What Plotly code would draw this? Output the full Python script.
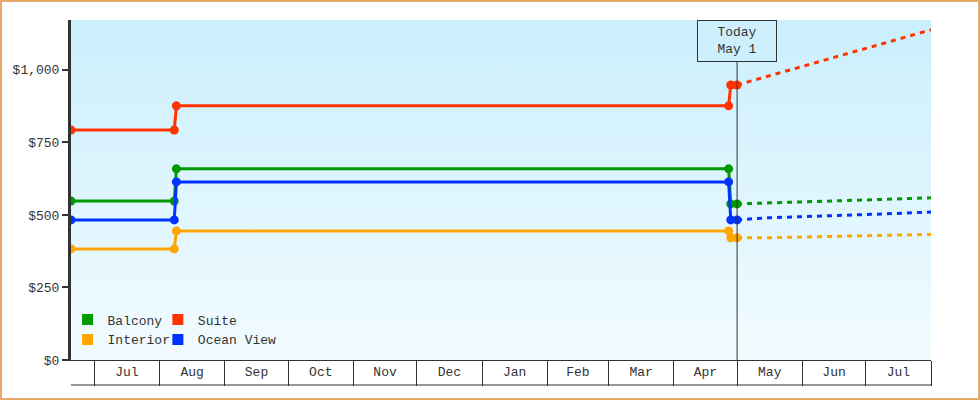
import plotly.graph_objects as go

# price history (step changes) and forecast, per cabin type
hist_dates = ["2023-06-20", "2023-08-08", "2023-08-09", "2024-04-27", "2024-04-28", "2024-05-01"]
balcony_hist = [548, 548, 659, 659, 538, 538]
suite_hist = [793, 793, 876, 876, 948, 948]
interior_hist = [383, 383, 445, 445, 421, 421]
ocean_hist = [483, 483, 614, 614, 483, 483]

fc_dates = ["2024-05-01", "2024-05-15", "2024-06-01", "2024-06-15", "2024-07-01", "2024-07-15", "2024-08-01"]
balcony_fc = [538, 540, 545, 548, 552, 555, 559]
suite_fc = [948, 977, 1011, 1040, 1074, 1103, 1138]
interior_fc = [421, 421, 424, 426, 428, 431, 433]
ocean_fc = [483, 490, 494, 497, 500, 505, 510]

today = "2024-05-01"
y_max = 1172
y_ticks = [0, 250, 500, 750, 1000]

series = [
    ("Balcony", balcony_hist, balcony_fc, "#009900", "legend"),
    ("Suite", suite_hist, suite_fc, "#ff3300", "legend2"),
    ("Interior", interior_hist, interior_fc, "#ffa500", "legend"),
    ("Ocean View", ocean_hist, ocean_fc, "#0033ff", "legend2"),
]

W, H = 980, 400
ml, mr, mt, mb = 71, 49, 20, 40
pw, ph = W - ml - mr, H - mt - mb
font = "Liberation Mono"

fig = go.Figure()

# background gradient
fig.add_trace(go.Scatter(
    x=[hist_dates[0], fc_dates[-1]], y=[y_max, y_max],
    mode="lines", line=dict(width=0), fill="tozeroy",
    fillgradient=dict(type="vertical", colorscale=[[0, "#f2fbff"], [1, "#caeffc"]]),
    hoverinfo="skip", showlegend=False))

for name, hist, fc, color, lg in series:
    fig.add_trace(go.Scatter(
        x=fc_dates, y=fc, mode="lines",
        line=dict(color=color, width=3, dash="5px,5px"),
        showlegend=False, hoverinfo="skip"))
    fig.add_trace(go.Scatter(
        x=hist_dates, y=hist, mode="lines+markers",
        line=dict(color=color, width=3),
        marker=dict(color=color, size=9, symbol="circle"),
        showlegend=False))

# legend entries (square swatches)
for name, hist, fc, color, lg in series:
    fig.add_trace(go.Scatter(
        x=[None], y=[None], mode="markers", name=name, legend=lg,
        marker=dict(color=color, size=11, symbol="square")))

fig.add_shape(type="line", xref="x", yref="paper", x0=today, x1=today, y0=0, y1=1,
              line=dict(color="#333", width=1), layer="above")
fig.add_annotation(x=today, xref="x", y=1, yref="paper", yanchor="top",
                   text="Today<br>May 1", showarrow=False,
                   font=dict(family=font, size=13, color="#333"),
                   bgcolor="#cdf0fc", bordercolor="#333", borderwidth=1,
                   borderpad=4, width=70)

# bottom line of the month band
fig.add_shape(type="line", xref="paper", yref="paper", x0=0, x1=1,
              y0=-25 / ph, y1=-25 / ph, line=dict(color="#333", width=1))
# outer frame
fig.add_shape(type="rect", xref="paper", yref="paper",
              x0=-(ml - 1) / pw, x1=(W - ml - 1) / pw,
              y0=-(mb - 1) / ph, y1=(H - mb - 1) / ph,
              line=dict(color="#e8aa6c", width=2))

fig.update_layout(
    width=W, height=H,
    margin=dict(l=ml, r=mr, t=mt, b=mb),
    paper_bgcolor="white",
    plot_bgcolor="#e0f6fe",
    font=dict(family=font, size=13, color="#333"),
    legend=dict(x=-0.004, xanchor="left", y=0.016, yanchor="bottom",
                bgcolor="rgba(0,0,0,0)", tracegroupgap=0, itemwidth=30),
    legend2=dict(x=0.101, xanchor="left", y=0.016, yanchor="bottom",
                 bgcolor="rgba(0,0,0,0)", tracegroupgap=0, itemwidth=30),
    xaxis=dict(type="date", range=[hist_dates[0], fc_dates[-1]],
               showgrid=False, zeroline=False,
               showline=True, linecolor="#333", linewidth=1,
               ticks="outside", ticklen=25, tickcolor="#333", tickwidth=1,
               dtick="M1", tick0="2023-07-01", tickformat="%b",
               ticklabelmode="period", ticklabelstandoff=-26),
    yaxis=dict(range=[0, y_max], showgrid=False, zeroline=False,
               showline=True, linecolor="#333", linewidth=3,
               ticks="outside", ticklen=6, tickwidth=2, tickcolor="#333",
               tickvals=y_ticks, tickformat="$,"),
)

fig.write_html("out.html", config={"displayModeBar": False},
               post_script="document.body.style.margin='0';")
